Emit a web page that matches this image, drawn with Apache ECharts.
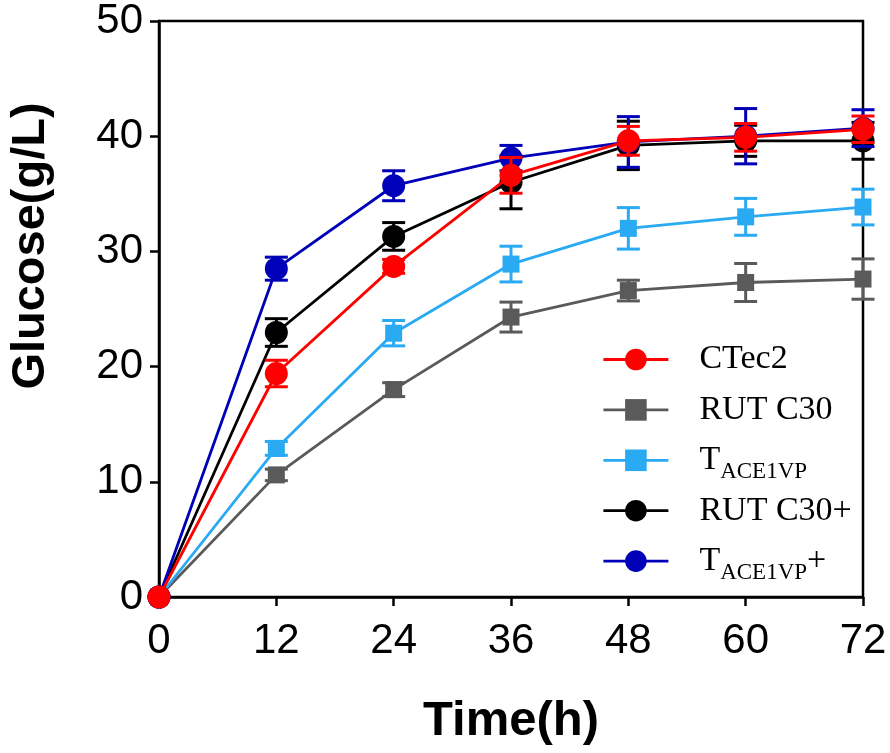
<!DOCTYPE html>
<html>
<head>
<meta charset="utf-8">
<script src="https://cdn.jsdelivr.net/npm/echarts@6/dist/echarts.min.js"></script>
<style>html,body{margin:0;padding:0;background:#fff}#c{width:890px;height:753px}</style>
</head>
<body>
<div id="c"></div>
<script>
// ---- data ----
var timeH = [0, 12, 24, 36, 48, 60, 72];
var xTicks = [0, 12, 24, 36, 48, 60, 72];
var yTicks = [0, 10, 20, 30, 40, 50];

var ctec2      = [0, 19.4, 28.7, 36.6, 39.6, 39.9, 40.6];
var ctec2Err   = [0, 1.15, 0.6, 1.55, 1.25, 1.2, 1.15];
var rutc30     = [0, 10.6, 18.0, 24.3, 26.6, 27.3, 27.6];
var rutc30Err  = [0, 0.5, 0.6, 1.3, 0.9, 1.65, 1.75];
var tace       = [0, 12.9, 22.9, 28.9, 32.0, 33.0, 33.85];
var taceErr    = [0, 0.6, 1.1, 1.55, 1.8, 1.6, 1.55];
var rutc30p    = [0, 22.96, 31.3, 36.0, 39.2, 39.6, 39.6];
var rutc30pErr = [0, 1.2, 1.2, 2.3, 2.1, 1.35, 1.6];
var tacep      = [0, 28.5, 35.7, 38.1, 39.5, 40.0, 40.7];
var tacepErr   = [0, 1.0, 1.3, 1.1, 2.2, 2.4, 1.6];

var legendNames = ['CTec2', 'RUT C30', 'TACE1VP', 'RUT C30+', 'TACE1VP+'];

// draw order (bottom -> top)
var seriesDefs = [
  {name: 'RUT C30',  vals: rutc30,  err: rutc30Err,  color: '#5A5A5A', symbol: 'rect',   size: 17},
  {name: 'TACE1VP',  vals: tace,    err: taceErr,    color: '#29AAF2', symbol: 'rect',   size: 17},
  {name: 'RUT C30+', vals: rutc30p, err: rutc30pErr, color: '#000000', symbol: 'circle', size: 23},
  {name: 'TACE1VP+', vals: tacep,   err: tacepErr,   color: '#0000B8', symbol: 'circle', size: 23},
  {name: 'CTec2',    vals: ctec2,   err: ctec2Err,   color: '#FF0000', symbol: 'circle', size: 23}
];

var series = [];
seriesDefs.forEach(function (d, k) {
  var errData = [];
  timeH.forEach(function (t, i) {
    if (d.err[i] > 0) errData.push([t, d.vals[i] - d.err[i], d.vals[i] + d.err[i]]);
  });
  series.push({
    name: 'err-' + d.name,
    type: 'custom',
    z: 10 + k * 2,
    silent: true,
    data: errData,
    encode: {x: 0, y: [1, 2]},
    renderItem: (function (color) {
      return function (params, api) {
        var x = api.value(0);
        var lo = api.coord([x, api.value(1)]);
        var hi = api.coord([x, api.value(2)]);
        var hw = 11.5;
        var st = {stroke: color, lineWidth: 3, fill: null};
        return {
          type: 'group',
          children: [
            {type: 'line', shape: {x1: lo[0], y1: lo[1], x2: hi[0], y2: hi[1]}, style: st},
            {type: 'line', shape: {x1: hi[0] - hw, y1: hi[1], x2: hi[0] + hw, y2: hi[1]}, style: st},
            {type: 'line', shape: {x1: lo[0] - hw, y1: lo[1], x2: lo[0] + hw, y2: lo[1]}, style: st}
          ]
        };
      };
    })(d.color)
  });
  series.push({
    name: d.name,
    type: 'line',
    z: 11 + k * 2,
    data: timeH.map(function (t, i) { return [t, d.vals[i]]; }),
    symbol: d.symbol,
    symbolSize: d.size,
    showSymbol: true,
    lineStyle: {color: d.color, width: 2.8},
    itemStyle: {color: d.color},
    emphasis: {disabled: true}
  });
});

var serif = 'Liberation Serif, Times New Roman, serif';
var sans = 'Liberation Sans, Arial, sans-serif';

var chart = echarts.init(document.getElementById('c'), null, {renderer: 'canvas'});
chart.setOption({
  animation: false,
  backgroundColor: '#fff',
  grid: {left: 157, right: 27, top: 19, bottom: 156, show: true, borderColor: '#000', borderWidth: 2.5, backgroundColor: 'transparent'},
  xAxis: {
    type: 'value', min: xTicks[0], max: xTicks[xTicks.length - 1], interval: 12,
    name: 'Time(h)', nameLocation: 'middle', nameGap: 100,
    nameTextStyle: {fontFamily: sans, fontWeight: 'bold', fontSize: 49, color: '#000'},
    axisLine: {lineStyle: {color: '#000', width: 2.5}},
    axisTick: {length: 9, lineStyle: {color: '#000', width: 2.5}},
    axisLabel: {fontFamily: sans, fontSize: 42, color: '#000', margin: 23},
    splitLine: {show: false}
  },
  yAxis: {
    type: 'value', min: yTicks[0], max: yTicks[yTicks.length - 1], interval: 10,
    name: 'Glucose(g/L)', nameLocation: 'middle', nameGap: 104,
    nameTextStyle: {fontFamily: sans, fontWeight: 'bold', fontSize: 47, color: '#000', padding: [0, 0, 0, 126]},
    axisLine: {lineStyle: {color: '#000', width: 2.5}},
    axisTick: {length: 9, lineStyle: {color: '#000', width: 2.5}},
    axisLabel: {fontFamily: sans, fontSize: 42, color: '#000', margin: 16},
    splitLine: {show: false}
  },
  legend: {
    data: legendNames,
    orient: 'vertical',
    left: 597, top: 331,
    itemWidth: 65, itemHeight: 27, itemGap: 3.4,
    selectedMode: false,
    lineStyle: {width: 2.8},
    formatter: function (n) {
      if (n === 'TACE1VP') return '{sp|}{m|T}{s|ACE1VP}';
      if (n === 'TACE1VP+') return '{sp|}{m|T}{s|ACE1VP}{m|+}';
      return '{sp|}{m|' + n + '}';
    },
    textStyle: {
      fontFamily: serif, fontSize: 34, color: '#000', lineHeight: 26,
      rich: {
        sp: {width: 26, fontFamily: serif, fontSize: 23, lineHeight: 26, padding: [24, 0, 0, 0], backgroundColor: 'transparent'},
        m: {fontFamily: serif, fontSize: 34, color: '#000', lineHeight: 26},
        s: {fontFamily: serif, fontSize: 23, color: '#000', lineHeight: 26, padding: [24, 0, 0, 0]}
      }
    }
  },
  series: series
});
</script>
</body>
</html>
